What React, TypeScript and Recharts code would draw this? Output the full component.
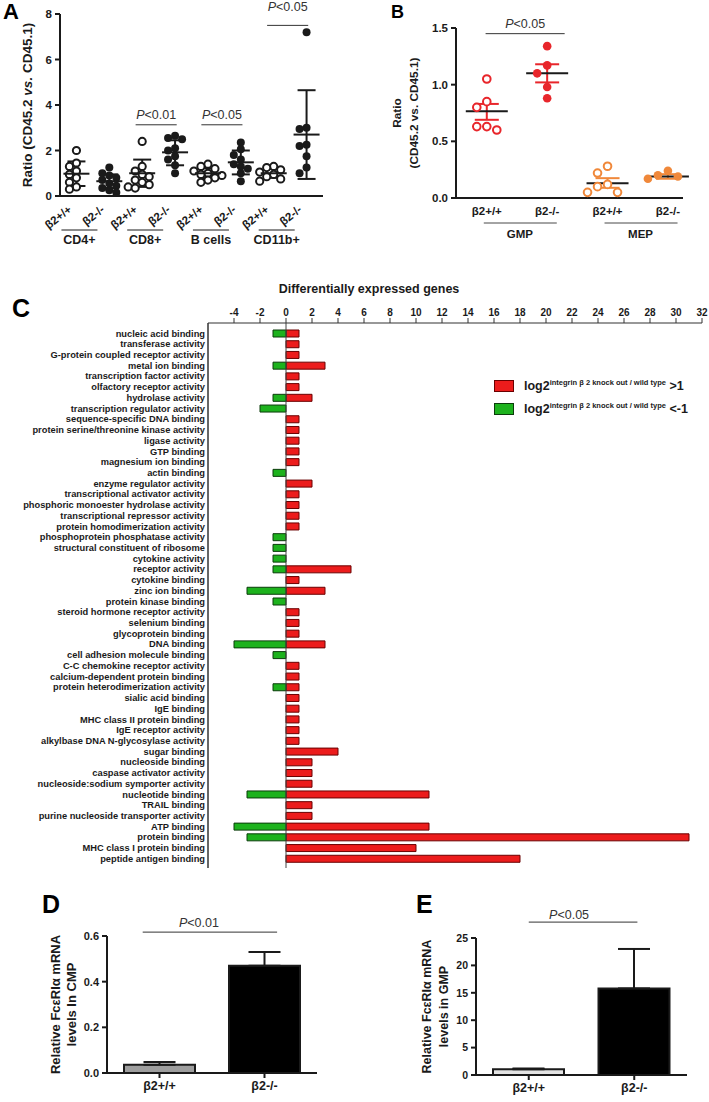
import React from 'react';
import {
  ScatterChart,
  Scatter,
  XAxis,
  YAxis,
  ErrorBar,
  ReferenceLine,
  BarChart,
  Bar,
  Cell,
  Legend,
  ComposedChart,
} from 'recharts';

const FONT = '"Liberation Sans", Arial, Helvetica, sans-serif';
const INK = '#1a1a1a';
const RED = '#e8262b';
const ORANGE = '#f0883a';

// ---------- A: donor ratio per lineage ----------
const genotypes = ['β2+/+', 'β2-/-'];
const aGroups = ['CD4+', 'CD8+', 'B cells', 'CD11b+'];
const aCd4Wt = [2.0, 1.45, 1.3, 1.1, 0.95, 0.8, 0.6, 0.4, 0.3];
const aCd4Ko = [1.25, 1.0, 0.9, 0.8, 0.7, 0.55, 0.45, 0.35, 0.25, 0.15];
const aCd8Wt = [2.4, 1.3, 1.1, 0.95, 0.85, 0.7, 0.6, 0.5, 0.4, 0.35];
const aCd8Ko = [2.65, 2.55, 2.5, 2.1, 2.0, 1.75, 1.6, 1.35, 1.0];
const aBWt = [1.4, 1.3, 1.2, 1.1, 1.0, 0.95, 0.9, 0.8, 0.7, 0.6];
const aBKo = [2.35, 2.05, 1.8, 1.6, 1.4, 1.3, 1.2, 1.0, 0.65];
const aCd11bWt = [1.3, 1.25, 1.15, 1.05, 0.95, 0.85, 0.75, 0.65];
const aCd11bKo = [7.2, 3.0, 2.95, 2.25, 2.2, 1.75, 1.25, 1.0];
const aMean = [0.98, 0.65, 1.0, 1.92, 1.0, 1.48, 1.0, 2.7];
const aSdHigh = [1.52, 0.95, 1.6, 2.45, 1.22, 2.0, 1.2, 4.65];
const aSdLow = [0.44, 0.35, 0.4, 1.35, 0.78, 0.95, 0.8, 0.75];
const aPText = ['<0.01', '<0.05', '<0.05'];
const aPPair = [1, 2, 3];
const aPLevel = [3.13, 3.13, 7.5];
const aPGap = [6, 6, 14];

// ---------- B: GMP / MEP ratio ----------
const bGroups = ['GMP', 'MEP'];
const bGmpWt = [1.05, 0.85, 0.8, 0.63, 0.63, 0.6];
const bGmpKo = [1.34, 1.17, 1.1, 0.98, 0.88];
const bMepWt = [0.28, 0.22, 0.12, 0.1, 0.05, 0.05];
const bMepKo = [0.24, 0.2, 0.19, 0.17];
const bMean = [0.765, 1.1, 0.13, 0.19];
const bSemHigh = [0.83, 1.18, 0.175, 0.21];
const bSemLow = [0.69, 1.02, 0.09, 0.17];
const bPLevel = 1.45;

// ---------- C: differentially expressed genes ----------
const cTerms = [
  'nucleic acid binding', 'transferase activity', 'G-protein coupled receptor activity', 'metal ion binding',
  'transcription factor activity', 'olfactory receptor activity', 'hydrolase activity', 'transcription regulator activity',
  'sequence-specific DNA binding', 'protein serine/threonine kinase activity', 'ligase activity', 'GTP binding',
  'magnesium ion binding', 'actin binding', 'enzyme regulator activity', 'transcriptional activator activity',
  'phosphoric monoester hydrolase activity', 'transcriptional repressor activity', 'protein homodimerization activity',
  'phosphoprotein phosphatase activity', 'structural constituent of ribosome', 'cytokine activity', 'receptor activity',
  'cytokine binding', 'zinc ion binding', 'protein kinase binding', 'steroid hormone receptor activity',
  'selenium binding', 'glycoprotein binding', 'DNA binding', 'cell adhesion molecule binding',
  'C-C chemokine receptor activity', 'calcium-dependent protein binding', 'protein heterodimerization activity',
  'sialic acid binding', 'IgE binding', 'MHC class II protein binding', 'IgE receptor activity',
  'alkylbase DNA N-glycosylase activity', 'sugar binding', 'nucleoside binding', 'caspase activator activity',
  'nucleoside:sodium symporter activity', 'nucleotide binding', 'TRAIL binding', 'purine nucleoside transporter activity',
  'ATP binding', 'protein binding', 'MHC class I protein binding', 'peptide antigen binding',
];
const cUp = [
  1, 1, 1, 3, 1, 1, 2, 0, 1, 1, 1, 1, 1, 0, 2, 1, 1, 1, 1, 0, 0, 0, 5, 1, 3,
  0, 1, 1, 1, 3, 0, 1, 1, 1, 1, 1, 1, 1, 1, 4, 2, 2, 2, 11, 2, 2, 11, 31, 10, 18,
];
const cDown = [
  -1, 0, 0, -1, 0, 0, -1, -2, 0, 0, 0, 0, 0, -1, 0, 0, 0, 0, 0, -1, -1, -1, -1, 0, -3,
  -1, 0, 0, 0, -4, -1, 0, 0, -1, 0, 0, 0, 0, 0, 0, 0, 0, 0, -3, 0, 0, -4, -3, 0, 0,
];
const cTicks = [-4, -2, 0, 2, 4, 6, 8, 10, 12, 14, 16, 18, 20, 22, 24, 26, 28, 30, 32];
const cLegendOrder = ['up', 'down'];

// ---------- D / E: FcεRIα mRNA ----------
const dMean = [0.036, 0.47];
const dErrTop = [0.048, 0.53];
const dPLevel = 0.617;
const eMean = [1.05, 15.8];
const eErrTop = [1.2, 23.0];
const ePLevel = 27.9;

// simple beeswarm: pick the first free slot among close neighbours
function swarm(values: number[], gap: number) {
  const order = [0, -1, 1, -2, 2, -3, 3];
  const placed: { v: number; s: number }[] = [];
  return values.map((v) => {
    const used = placed.filter((p) => Math.abs(p.v - v) < gap).map((p) => p.s);
    const s = order.find((o) => !used.includes(o)) ?? 0;
    placed.push({ v, s });
    return s;
  });
}

function dots(sets: number[][], idx: number[], gap: number) {
  return idx.flatMap((i) => {
    const slots = swarm(sets[i], gap);
    return sets[i].map((v, k) => ({ x: i, y: v, slot: slots[k] }));
  });
}

function summary(mean: number[], lo: number[], hi: number[], idx: number[]) {
  return idx.map((i) => ({ x: i, y: mean[i], err: [mean[i] - lo[i], hi[i] - mean[i]] }));
}

const aSets = [aCd4Wt, aCd4Ko, aCd8Wt, aCd8Ko, aBWt, aBKo, aCd11bWt, aCd11bKo];
const aOpen = dots(aSets, [0, 2, 4, 6], 0.3);
const aFilled = dots(aSets, [1, 3, 5, 7], 0.3);
const aSummary = summary(aMean, aSdLow, aSdHigh, [0, 1, 2, 3, 4, 5, 6, 7]);

const bSets = [bGmpWt, bGmpKo, bMepWt, bMepKo];
const bGmpOpen = dots(bSets, [0], 0.07);
const bGmpFilled = dots(bSets, [1], 0.07);
const bMepOpen = dots(bSets, [2], 0.07);
const bMepFilled = dots(bSets, [3], 0.07);
const bGmpSummary = summary(bMean, bSemLow, bSemHigh, [0, 1]);
const bMepSummary = summary(bMean, bSemLow, bSemHigh, [2, 3]);

const cData = cTerms.map((term, i) => ({ term, up: cUp[i], down: cDown[i] }));

const dData = genotypes.map((g, i) => ({ g, v: dMean[i], err: [0, dErrTop[i] - dMean[i]] }));
const eData = genotypes.map((g, i) => ({ g, v: eMean[i], err: [0, eErrTop[i] - eMean[i]] }));

const dot = (spacing: number, r: number, color: string, open: boolean) => (p: any) => (
  <circle
    cx={p.cx + (p.payload?.slot ?? 0) * spacing}
    cy={p.cy}
    r={r}
    fill={open ? '#fff' : color}
    stroke={color}
    strokeWidth={open ? 2 : 0}
  />
);

const meanLine = (half: number) => (p: any) => (
  <line x1={p.cx - half} x2={p.cx + half} y1={p.cy} y2={p.cy} stroke={INK} strokeWidth={2} />
);

const pLabel = (text: string, gap: number, dx = 0) => (props: any) => {
  const vb = props.viewBox || {};
  const cx = (vb.x ?? 0) + (vb.width ?? 0) / 2 + dx;
  return (
    <text x={cx} y={(vb.y ?? 0) - gap} textAnchor="middle" fontSize={12.5} fill="#333">
      <tspan fontStyle="italic">P</tspan>
      {text}
    </text>
  );
};

const ATick = (props: any) => {
  const { x, y, payload } = props;
  const i = Number(payload?.value ?? 0);
  const ax = x - 4;
  const ay = y + 15;
  const first = i % 2 === 0;
  return (
    <g fontWeight="bold">
      <text x={ax} y={ay} transform={`rotate(-38 ${ax} ${ay})`} textAnchor="end" fontSize={11.5} fill={INK}>
        {genotypes[i % 2]}
      </text>
      {first && <line x1={x - 15} x2={x + 21} y1={y + 34} y2={y + 34} stroke={INK} strokeWidth={1} />}
      {first && (
        <text x={x + 3} y={y + 48} textAnchor="middle" fontSize={12.5} fill={INK}>
          {aGroups[i / 2]}
        </text>
      )}
    </g>
  );
};

const BTick = (props: any) => {
  const { x, y, payload } = props;
  const i = Number(payload?.value ?? 0);
  const first = i % 2 === 0;
  return (
    <g fontWeight="bold">
      <text x={x} y={y + 17} textAnchor="middle" fontSize={11.5} fill={INK}>
        {genotypes[i % 2]}
      </text>
      {first && <line x1={x - 3} x2={x + 70} y1={y + 25} y2={y + 25} stroke={INK} strokeWidth={0.8} />}
      {first && (
        <text x={x + 33} y={y + 40} textAnchor="middle" fontSize={11.5} fill={INK}>
          {bGroups[i / 2]}
        </text>
      )}
    </g>
  );
};

const CTick = (props: any) => (
  <text x={props.x} y={props.y} dy="0.35em" textAnchor="end" fontSize={9.3} fontWeight={700} fill={INK}>
    {props.payload?.value}
  </text>
);

const rotLabel = (lines: React.ReactNode[], offsets: number[], size: number) => (props: any) => {
  const vb = props.viewBox || {};
  const cy = (vb.y ?? 0) + (vb.height ?? 0) / 2;
  return (
    <g>
      {lines.map((ln, k) => {
        const cx = (vb.x ?? 0) + offsets[k];
        return (
          <text
            key={k}
            x={cx}
            y={cy}
            transform={`rotate(-90 ${cx} ${cy})`}
            textAnchor="middle"
            dominantBaseline="central"
            fontSize={size}
            fontWeight="bold"
            fill={INK}
          >
            {ln}
          </text>
        );
      })}
    </g>
  );
};

const axisStyle = { stroke: INK, strokeWidth: 2 };
const tickFont = { fontSize: 11.5, fontWeight: 700, fill: INK };

const CLegend = (props: any) => {
  const items = [...(props.payload || [])].sort(
    (a: any, b: any) => cLegendOrder.indexOf(a.dataKey) - cLegendOrder.indexOf(b.dataKey),
  );
  return (
    <div style={{ fontWeight: 700, color: INK, whiteSpace: 'nowrap' }}>
      {items.map((e: any) => (
        <div key={e.value} style={{ display: 'flex', alignItems: 'center', height: 23 }}>
          <span
            style={{
              display: 'inline-block',
              width: 18,
              height: 10,
              background: e.color,
              border: `1px solid ${e.payload?.stroke ?? INK}`,
              marginRight: 10,
            }}
          />
          <span style={{ fontSize: 12.5 }}>
            log2<sup style={{ fontSize: 7.5 }}>integrin β 2 knock out / wild type</sup> {e.value}
          </span>
        </div>
      ))}
    </div>
  );
};

const letter = (ch: string, left: number, top: number, size: number) => (
  <div style={{ position: 'absolute', left, top, fontSize: size, fontWeight: 700, lineHeight: 1, color: '#000', zIndex: 5 }}>
    {ch}
  </div>
);

export default function App() {
  return (
    <div style={{ position: 'absolute', left: 0, top: 0, width: 709, height: 1102, background: '#fff', fontFamily: FONT, overflow: 'hidden' }}>
      {/* Panel A */}
      <div style={{ position: 'absolute', left: 0, top: 0 }}>
        <ScatterChart width={345} height={270} margin={{ top: 14, right: 22, bottom: 0, left: 30 }}>
          <XAxis
            type="number"
            dataKey="x"
            domain={[-0.5, 7.5]}
            ticks={[0, 1, 2, 3, 4, 5, 6, 7]}
            interval={0}
            height={74}
            tickLine={false}
            tickSize={0}
            tickMargin={0}
            axisLine={axisStyle}
            tick={(p: any) => <ATick {...p} />}
          />
          <YAxis
            type="number"
            dataKey="y"
            domain={[0, 8]}
            ticks={[0, 2, 4, 6, 8]}
            width={30}
            axisLine={axisStyle}
            tickLine={axisStyle}
            tickSize={5}
            tickMargin={3}
            tick={tickFont}
            label={rotLabel(
              [<>Ratio (CD45.2 <tspan fontStyle="italic">vs.</tspan> CD45.1)</>],
              [-3],
              13.5,
            )}
          />
          <Scatter data={aOpen} shape={dot(7, 3.6, INK, true)} isAnimationActive={false} />
          <Scatter data={aFilled} shape={dot(7, 4, INK, false)} isAnimationActive={false} />
          <Scatter data={aSummary} shape={meanLine(13)} isAnimationActive={false}>
            <ErrorBar dataKey="err" direction="y" width={9} stroke={INK} strokeWidth={2} />
          </Scatter>
          {aPPair.map((g, k) => (
            <ReferenceLine
              key={k}
              segment={[
                { x: g * 2 - 0.2, y: aPLevel[k] },
                { x: g * 2 + 1.05, y: aPLevel[k] },
              ]}
              stroke="#333"
              strokeWidth={1}
              ifOverflow="visible"
              label={pLabel(aPText[k], aPGap[k])}
            />
          ))}
        </ScatterChart>
      </div>

      {/* Panel B */}
      <div style={{ position: 'absolute', left: 370, top: 0 }}>
        <ScatterChart width={339} height={270} margin={{ top: 28, right: 26, bottom: 0, left: 56 }}>
          <XAxis
            type="number"
            dataKey="x"
            domain={[-0.51, 3.25]}
            ticks={[0, 1, 2, 3]}
            interval={0}
            height={72}
            tickLine={false}
            tickSize={0}
            tickMargin={0}
            axisLine={axisStyle}
            tick={(p: any) => <BTick {...p} />}
          />
          <YAxis
            type="number"
            dataKey="y"
            domain={[0, 1.5]}
            ticks={[0, 0.5, 1, 1.5]}
            width={30}
            axisLine={axisStyle}
            tickLine={axisStyle}
            tickSize={5}
            tickMargin={3}
            tick={tickFont}
            tickFormatter={(v: number) => v.toFixed(1)}
            label={rotLabel(['Ratio', '(CD45.2 vs. CD45.1)'], [-29, -12], 11.8)}
          />
          <Scatter data={bGmpSummary} shape={meanLine(21)} isAnimationActive={false}>
            <ErrorBar dataKey="err" direction="y" width={12} stroke={RED} strokeWidth={2} />
          </Scatter>
          <Scatter data={bMepSummary} shape={meanLine(21)} isAnimationActive={false}>
            <ErrorBar dataKey="err" direction="y" width={12} stroke={ORANGE} strokeWidth={2} />
          </Scatter>
          <Scatter data={bGmpOpen} shape={dot(10, 3.8, RED, true)} isAnimationActive={false} />
          <Scatter data={bGmpFilled} shape={dot(10, 4.3, RED, false)} isAnimationActive={false} />
          <Scatter data={bMepOpen} shape={dot(10, 3.8, ORANGE, true)} isAnimationActive={false} />
          <Scatter data={bMepFilled} shape={dot(10, 4.3, ORANGE, false)} isAnimationActive={false} />
          <ReferenceLine
            segment={[
              { x: -0.02, y: bPLevel },
              { x: 1.29, y: bPLevel },
            ]}
            stroke="#333"
            strokeWidth={1}
            ifOverflow="visible"
            label={pLabel('<0.05', 6)}
          />
        </ScatterChart>
      </div>

      {/* Panel C */}
      <div style={{ position: 'absolute', left: 269, top: 282, width: 200, textAlign: 'center', fontSize: 12.5, fontWeight: 700, color: INK, whiteSpace: 'nowrap' }}>
        Differentially expressed genes
      </div>
      <div style={{ position: 'absolute', left: 0, top: 270 }}>
        <BarChart
          layout="vertical"
          width={709}
          height={600}
          data={cData}
          stackOffset="sign"
          barSize={7}
          margin={{ top: 25, right: 7, bottom: 2, left: 8 }}
        >
          <XAxis
            type="number"
            orientation="top"
            domain={[-6, 32]}
            ticks={cTicks}
            interval={0}
            height={28}
            axisLine={{ stroke: '#333', strokeWidth: 1.2 }}
            tickLine={{ stroke: '#333', strokeWidth: 1 }}
            tickSize={5}
            tickMargin={2}
            tick={{ fontSize: 10, fontWeight: 700, fill: INK }}
          />
          <YAxis
            type="category"
            dataKey="term"
            width={200}
            interval={0}
            padding={{ top: 5, bottom: 4 }}
            axisLine={{ stroke: '#333', strokeWidth: 1.5 }}
            tickLine={false}
            tickSize={0}
            tickMargin={3}
            tick={(p: any) => <CTick {...p} />}
          />
          <ReferenceLine x={0} stroke="#444" strokeWidth={1} />
          <Bar dataKey="up" name=">1" stackId="s" fill="#ec1c1c" stroke="#6a0000" strokeWidth={1} isAnimationActive={false} />
          <Bar dataKey="down" name="<-1" stackId="s" fill="#1db21d" stroke="#0b3d0b" strokeWidth={1} isAnimationActive={false} />
          <Legend
            layout="vertical"
            align="center"
            verticalAlign="middle"
            content={(p: any) => <CLegend {...p} />}
            wrapperStyle={{ position: 'absolute', left: 494, top: 104, width: 215 }}
          />
        </BarChart>
      </div>

      {/* Panel D */}
      <div style={{ position: 'absolute', left: 0, top: 880 }}>
        <ComposedChart width={354} height={222} data={dData} margin={{ top: 56, right: 37, bottom: 0, left: 72 }}>
          <XAxis
            dataKey="g"
            height={29}
            axisLine={axisStyle}
            tickLine={axisStyle}
            tickSize={5}
            tickMargin={3}
            tick={{ fontSize: 12.5, fontWeight: 700, fill: INK }}
          />
          <XAxis xAxisId="ann" type="number" domain={[0, 1]} allowDataOverflow hide />
          <YAxis
            domain={[0, 0.6]}
            ticks={[0, 0.2, 0.4, 0.6]}
            width={35}
            axisLine={axisStyle}
            tickLine={axisStyle}
            tickSize={5}
            tickMargin={3}
            tick={{ fontSize: 11, fontWeight: 700, fill: INK }}
            tickFormatter={(v: number) => v.toFixed(1)}
            label={rotLabel(['Relative FcεRIα mRNA', 'levels In CMP'], [-17, -1], 13)}
          />
          <Bar dataKey="v" barSize={71} stroke={INK} strokeWidth={2} isAnimationActive={false}>
            <Cell fill="#9e9e9e" />
            <Cell fill="#000" />
            <ErrorBar dataKey="err" direction="y" width={16} stroke={INK} strokeWidth={2} />
          </Bar>
          <ReferenceLine
            xAxisId="ann"
            segment={[
              { x: 0.17, y: dPLevel },
              { x: 0.81, y: dPLevel },
            ]}
            stroke="#333"
            strokeWidth={1}
            ifOverflow="visible"
            label={pLabel('<0.01', 5, -11)}
          />
        </ComposedChart>
      </div>

      {/* Panel E */}
      <div style={{ position: 'absolute', left: 354, top: 880 }}>
        <ComposedChart width={355} height={222} data={eData} margin={{ top: 58, right: 22, bottom: 0, left: 92 }}>
          <XAxis
            dataKey="g"
            height={27}
            axisLine={axisStyle}
            tickLine={axisStyle}
            tickSize={5}
            tickMargin={3}
            tick={{ fontSize: 12.5, fontWeight: 700, fill: INK }}
          />
          <XAxis xAxisId="ann" type="number" domain={[0, 1]} allowDataOverflow hide />
          <YAxis
            domain={[0, 25]}
            ticks={[0, 5, 10, 15, 20, 25]}
            width={30}
            axisLine={axisStyle}
            tickLine={axisStyle}
            tickSize={5}
            tickMargin={3}
            tick={{ fontSize: 10.5, fontWeight: 700, fill: INK }}
            label={rotLabel(['Relative FcεRIα mRNA', 'levels in GMP'], [-19, -2], 12.5)}
          />
          <Bar dataKey="v" barSize={71} stroke={INK} strokeWidth={2} isAnimationActive={false}>
            <Cell fill="#e3e3e3" />
            <Cell fill="#000" />
            <ErrorBar dataKey="err" direction="y" width={16} stroke={INK} strokeWidth={2} />
          </Bar>
          <ReferenceLine
            xAxisId="ann"
            segment={[
              { x: 0.25, y: ePLevel },
              { x: 0.765, y: ePLevel },
            ]}
            stroke="#333"
            strokeWidth={1}
            ifOverflow="visible"
            label={pLabel('<0.05', 3, -14)}
          />
        </ComposedChart>
      </div>

      {letter('A', 3, 1, 22)}
      {letter('B', 391, 3, 18)}
      {letter('C', 12, 296, 25)}
      {letter('D', 42, 892, 25)}
      {letter('E', 416, 892, 25)}
    </div>
  );
}
